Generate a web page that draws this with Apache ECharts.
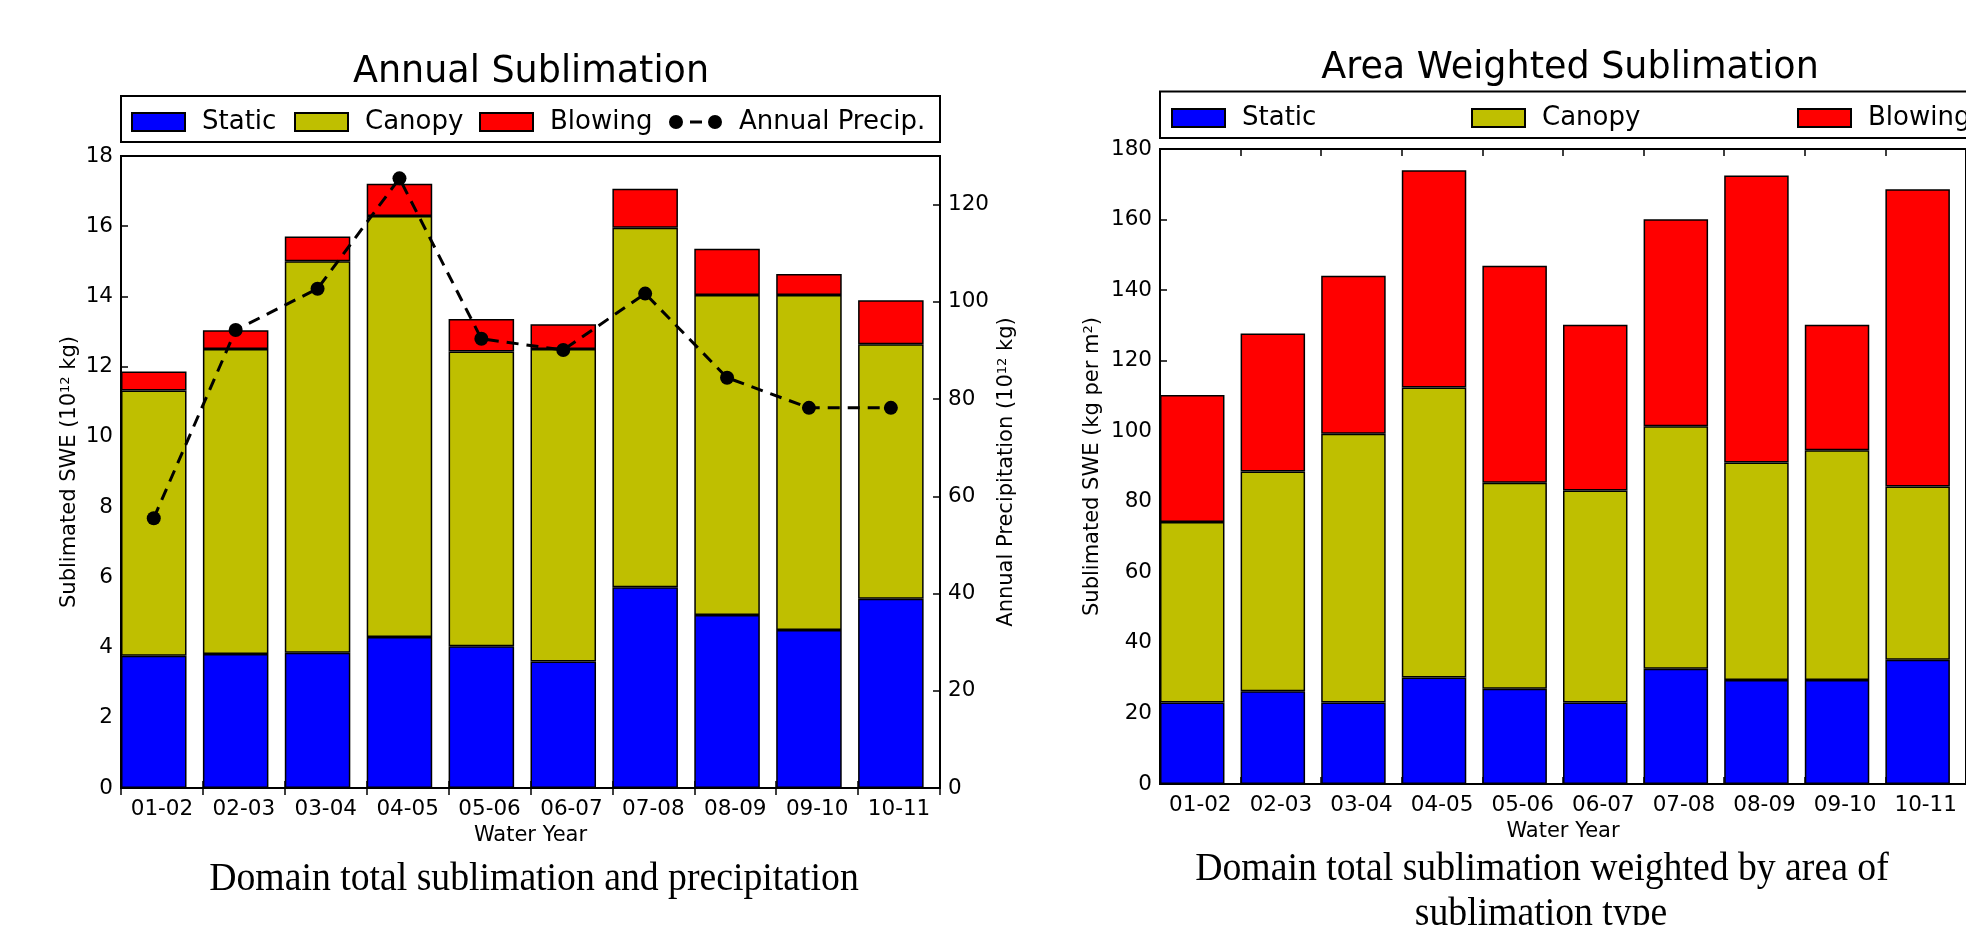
<!DOCTYPE html>
<html><head><meta charset="utf-8">
<script src="https://cdn.jsdelivr.net/npm/echarts@6/dist/echarts.min.js"></script>
<style>html,body{margin:0;padding:0;background:#fff}#c{width:1966px;height:925px}</style>
</head><body><div id="c"></div>
<script>
// ---------- data ----------
const years = ['01-02','02-03','03-04','04-05','05-06','06-07','07-08','08-09','09-10','10-11'];
// Annual sublimation, 10^12 kg (stacked segment heights)
const annualStatic  = [3.77, 3.82, 3.85, 4.30, 4.04, 3.60, 5.72, 4.93, 4.50, 5.39];
const annualCanopy  = [7.55, 8.68, 11.15, 11.99, 8.39, 8.90, 10.24, 9.11, 9.54, 7.25];
const annualBlowing = [0.54, 0.54, 0.71, 0.92, 0.93, 0.71, 1.11, 1.32, 0.60, 1.25];
// Annual precipitation, 10^12 kg
const annualPrecip  = [55.5, 94.2, 102.7, 125.4, 92.4, 90.1, 101.7, 84.4, 78.2, 78.2];
// Area weighted sublimation, kg per m^2 (stacked segment heights)
const areaStatic  = [23.1, 26.3, 23.1, 30.2, 27.0, 23.1, 32.7, 29.5, 29.5, 35.2];
const areaCanopy  = [51.2, 62.3, 76.2, 82.2, 58.4, 60.1, 68.7, 61.6, 65.1, 49.1];
const areaBlowing = [36.0, 39.1, 44.8, 61.6, 61.5, 47.0, 58.7, 81.4, 35.6, 84.3];
// axis ranges
const leftAxis   = {min: 0, max: 18, interval: 2};
const precipAxis = {min: 0, max: 130, interval: 20, lastLabel: 120};
const rightAxis  = {min: 0, max: 180, interval: 20};

// ---------- styles ----------
const F = 'DejaVu Sans';
const SERIF = 'Liberation Serif';
const C_STATIC = '#0000ff', C_CANOPY = '#bfbf00', C_BLOW = '#ff0000';
const tickFont = {fontFamily: F, fontSize: 21.5, color: '#000'};
const nameFont = {fontFamily: F, fontSize: 21, color: '#000',
  rich: {sup: {fontFamily: F, fontSize: 13, color: '#000', verticalAlign: 'top', lineHeight: 12}}};
// legend handle for the dashed line with markers at both ends
const LINE_ICON = 'path://M0,9a7,7 0 1,0 14,0a7,7 0 1,0 -14,0Z M39,9a7,7 0 1,0 14,0a7,7 0 1,0 -14,0Z M21,7.5h12v3h-12Z';

const G0 = {left: 121, top: 156, width: 819, height: 632};
const G1 = {left: 1160, top: 149, width: 815, height: 635};

function catAxis(grid, pos, labels) {
  return {
    type: 'category', gridIndex: grid, position: pos, data: years, boundaryGap: true,
    axisLine: {show: false},
    axisTick: {show: true, inside: true, length: 7, lineStyle: {color: '#000', width: 1.5}},
    axisLabel: labels ? Object.assign({show: true, interval: 0, margin: 10}, tickFont) : {show: false},
    splitLine: {show: false},
    name: labels ? 'Water Year' : '', nameLocation: 'middle', nameGap: 29,
    nameTextStyle: {fontFamily: F, fontSize: 21, color: '#000'}
  };
}
function valAxis(grid, pos, rng, name, gap, extra) {
  return Object.assign({
    type: 'value', gridIndex: grid, position: pos, min: rng.min, max: rng.max, interval: rng.interval,
    axisLine: {show: false},
    axisTick: {show: true, inside: true, length: 7, lineStyle: {color: '#000', width: 1.5}},
    axisLabel: Object.assign({margin: 8}, tickFont),
    splitLine: {show: false},
    name: name, nameLocation: 'middle', nameRotate: 90, nameGap: gap, nameTextStyle: nameFont
  }, extra || {});
}
function bar(name, data, color, xi, yi, stack) {
  return {type: 'bar', name, data, stack, xAxisIndex: xi, yAxisIndex: yi,
    barWidth: '80%', barGap: '0%',
    itemStyle: {color, borderColor: '#000', borderWidth: 1.5},
    emphasis: {disabled: true}};
}
function ghost(xi, yi) {
  return {type: 'bar', name: '_ghost' + xi, data: years.map(() => 0), xAxisIndex: xi, yAxisIndex: yi,
    barWidth: '20%', barGap: '0%', silent: true,
    itemStyle: {color: 'transparent', borderWidth: 0}, emphasis: {disabled: true}};
}
function legendItem(name, left, top, icon) {
  return {data: [{name, icon: icon || 'rect'}], left, top, orient: 'horizontal', padding: 0,
    itemWidth: 53, itemHeight: 18, selectedMode: false,
    textStyle: {fontFamily: F, fontSize: 26, color: '#000', lineHeight: 18, padding: [0, 0, 0, 12]}};
}

const chart = echarts.init(document.getElementById('c'), null, {renderer: 'canvas'});
chart.setOption({
  animation: false,
  backgroundColor: '#fff',
  textStyle: {fontFamily: F},
  grid: [
    Object.assign({show: true, borderColor: '#000', borderWidth: 2, backgroundColor: 'transparent', containLabel: false}, G0),
    Object.assign({show: true, borderColor: '#000', borderWidth: 2, backgroundColor: 'transparent', containLabel: false}, G1)
  ],
  xAxis: [
    catAxis(0, 'bottom', true),
    catAxis(0, 'top', false),
    {type: 'value', gridIndex: 0, min: 0, max: years.length, show: false},
    catAxis(1, 'bottom', true),
    catAxis(1, 'top', false)
  ],
  yAxis: [
    valAxis(0, 'left', leftAxis, 'Sublimated SWE (10{sup|12} kg)', 41),
    valAxis(0, 'right', precipAxis, 'Annual Precipitation (10{sup|12} kg)', 56,
      {axisLabel: Object.assign({margin: 8, formatter: v => v > precipAxis.lastLabel ? '' : String(v)}, tickFont)}),
    valAxis(1, 'left', rightAxis, 'Sublimated SWE (kg per m{sup|2})', 57)
  ],
  legend: [
    legendItem('Static', 131, 109),
    legendItem('Canopy', 294, 109),
    legendItem('Blowing', 479, 109),
    legendItem('Annual Precip.', 669, 109, LINE_ICON),
    legendItem('Static', 1171, 105),
    legendItem('Canopy', 1471, 105),
    legendItem('Blowing', 1797, 105)
  ],
  series: [
    bar('Static', annualStatic, C_STATIC, 0, 0, 'a'),
    bar('Canopy', annualCanopy, C_CANOPY, 0, 0, 'a'),
    bar('Blowing', annualBlowing, C_BLOW, 0, 0, 'a'),
    ghost(0, 0),
    {type: 'line', name: 'Annual Precip.', xAxisIndex: 2, yAxisIndex: 1,
      data: annualPrecip.map((v, i) => [i + 0.4, v]),
      symbol: 'circle', symbolSize: 14, z: 5,
      lineStyle: {color: '#000', width: 3, type: [12, 8]},
      itemStyle: {color: '#000'}, emphasis: {disabled: true}},
    bar('Static', areaStatic, C_STATIC, 3, 2, 'b'),
    bar('Canopy', areaCanopy, C_CANOPY, 3, 2, 'b'),
    bar('Blowing', areaBlowing, C_BLOW, 3, 2, 'b'),
    ghost(3, 2)
  ],
  graphic: [
    {type: 'rect', shape: {x: 121, y: 96, width: 819, height: 46}, style: {fill: '#fff', stroke: '#000', lineWidth: 2}, z: -1},
    {type: 'rect', shape: {x: 1160, y: 91.5, width: 815, height: 46.5}, style: {fill: '#fff', stroke: '#000', lineWidth: 2}, z: -1},
    {type: 'text', x: 531, y: 73, style: {text: 'Annual Sublimation', fontFamily: F, fontSize: 36.5, fill: '#000', align: 'center', verticalAlign: 'middle'}},
    {type: 'text', x: 1570, y: 69, style: {text: 'Area Weighted Sublimation', fontFamily: F, fontSize: 36.5, fill: '#000', align: 'center', verticalAlign: 'middle'}},
    {type: 'text', x: 534, y: 879, scaleX: 0.92, style: {text: 'Domain total sublimation and precipitation', fontFamily: SERIF, fontSize: 41, fill: '#000', align: 'center', verticalAlign: 'middle'}},
    {type: 'text', x: 1542, y: 869, scaleX: 0.92, style: {text: 'Domain total sublimation weighted by area of', fontFamily: SERIF, fontSize: 41, fill: '#000', align: 'center', verticalAlign: 'middle'}},
    {type: 'text', x: 1541, y: 914, scaleX: 0.92, style: {text: 'sublimation type', fontFamily: SERIF, fontSize: 41, fill: '#000', align: 'center', verticalAlign: 'middle'}}
  ]
});
</script></body></html>
